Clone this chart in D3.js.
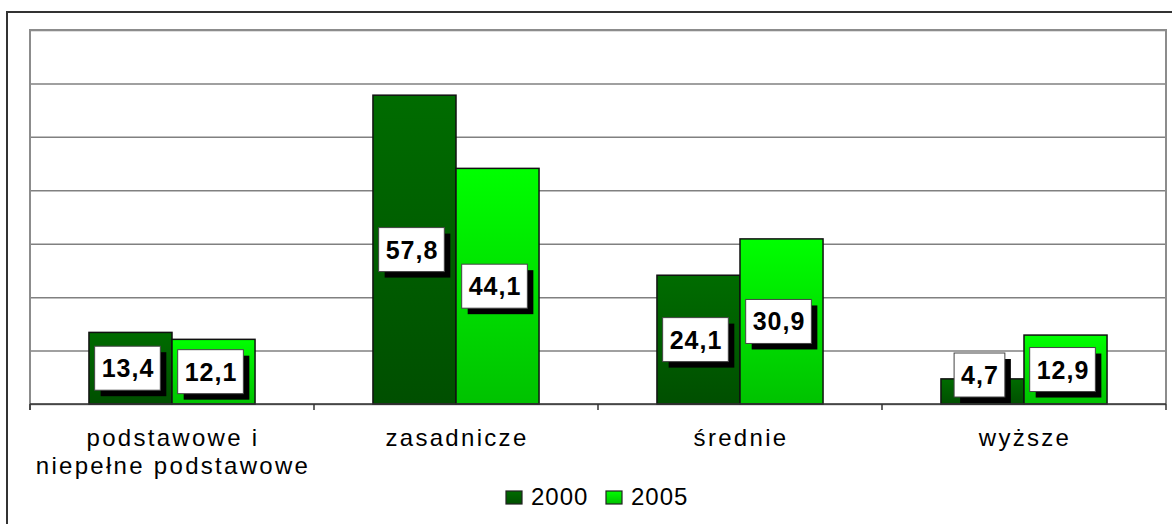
<!DOCTYPE html>
<html>
<head>
<meta charset="utf-8">
<script src="https://cdn.jsdelivr.net/npm/d3@7"></script>
<style>
body { margin:0; background:#fff; }
svg { display:block; font-family: Arial, "Liberation Sans", sans-serif; }
</style>
</head>
<body>
<div id="chart"></div>
<script>
// dane z wykresu
var categories = ["podstawowe i\nniepełne podstawowe", "zasadnicze", "średnie", "wyższe"];
var series = ["2000", "2005"];
var values2000 = [13.4, 57.8, 24.1, 4.7];
var values2005 = [12.1, 44.1, 30.9, 12.9];
var yTicks = [0, 10, 20, 30, 40, 50, 60, 70];

var w = 1172, h = 524;
var plot = {left:30, right:1166, top:30, bottom:404};

var data = categories.map(function(c, i){
  return {cat:c, vals:[{s:"2000", v:values2000[i]}, {s:"2005", v:values2005[i]}]};
});

var svg = d3.select("#chart").append("svg")
  .attr("width", w)
  .attr("height", h);

var defs = svg.append("defs");
var grads = {"2000":["#006c00", "#004f00"], "2005":["#00ff00", "#00c200"]};
series.forEach(function(s){
  var g = defs.append("linearGradient").attr("id", "g" + s)
    .attr("x1", 0).attr("y1", 0).attr("x2", 0).attr("y2", 1);
  g.append("stop").attr("offset", "0%").attr("stop-color", grads[s][0]);
  g.append("stop").attr("offset", "100%").attr("stop-color", grads[s][1]);
});

// ramka zewnetrzna
svg.append("rect")
  .attr("x", 7).attr("y", 12)
  .attr("width", w).attr("height", h)
  .attr("fill", "none")
  .attr("stroke", "#333").attr("stroke-width", 2);

var y = d3.scaleLinear().domain([0, 70]).range([plot.bottom, plot.top]);
var x0 = d3.scaleBand().domain(categories).range([plot.left, plot.right]).padding(0);
var x1 = d3.scaleBand().domain(series).range([0, x0.bandwidth()])
  .paddingInner(0).paddingOuter(0.71);

// siatka
var grid = svg.append("g")
  .attr("transform", "translate(" + plot.left + ",0)")
  .call(d3.axisLeft(y).tickValues(yTicks).tickSize(-(plot.right - plot.left)).tickFormat(""));
grid.select(".domain").remove();
grid.selectAll("line").attr("stroke", "#808080").attr("stroke-width", 1.5);

// ramka obszaru wykresu
svg.append("path")
  .attr("d", "M" + plot.left + "," + (plot.bottom + 6) + "V" + plot.top + "H" + plot.right + "V" + plot.bottom)
  .attr("fill", "none").attr("stroke", "#8c8c8c").attr("stroke-width", 2);

// slupki
var groups = svg.append("g").selectAll("g")
  .data(data)
  .enter()
  .append("g")
  .attr("transform", function(d){ return "translate(" + x0(d.cat) + ",0)"; });

groups.selectAll("rect")
  .data(function(d){ return d.vals; })
  .enter()
  .append("rect")
  .attr("x", function(d){ return x1(d.s); })
  .attr("y", function(d){ return y(d.v); })
  .attr("width", x1.bandwidth())
  .attr("height", function(d){ return y(0) - y(d.v); })
  .attr("fill", function(d){ return "url(#g" + d.s + ")"; })
  .attr("stroke", "#111")
  .attr("stroke-width", 1.5);

// os X
svg.append("line")
  .attr("x1", plot.left).attr("x2", plot.right)
  .attr("y1", plot.bottom).attr("y2", plot.bottom)
  .attr("stroke", "#333").attr("stroke-width", 1.5);
var bounds = categories.map(function(c){ return x0(c); }).concat([plot.right]);
svg.append("g").selectAll("line")
  .data(bounds)
  .enter()
  .append("line")
  .attr("x1", function(d){ return d; }).attr("x2", function(d){ return d; })
  .attr("y1", plot.bottom).attr("y2", plot.bottom + 6)
  .attr("stroke", "#333").attr("stroke-width", 1.5);

var xAxis = svg.append("g")
  .attr("transform", "translate(0," + plot.bottom + ")")
  .call(d3.axisBottom(x0).tickSize(0).tickFormat(""));
xAxis.select(".domain").remove();
xAxis.selectAll(".tick").append("text")
  .attr("text-anchor", "middle")
  .attr("fill", "#000")
  .style("font-size", "24px")
  .style("letter-spacing", "2.3px")
  .selectAll("tspan")
  .data(function(d){ return d.split("\n"); })
  .enter()
  .append("tspan")
  .attr("x", 1)
  .attr("y", function(d, i){ return 42 + i * 28; })
  .text(function(d){ return d; });

// etykiety wartosci
var labels = groups.selectAll("g.lab")
  .data(function(d){ return d.vals; })
  .enter()
  .append("g")
  .attr("class", "lab");

labels.each(function(d){
  var g = d3.select(this);
  var txt = d.v.toFixed(1).replace(".", ",");
  var t = g.append("text")
    .text(txt)
    .style("font-size", "25px")
    .style("font-weight", "bold")
    .style("letter-spacing", "1px")
    .attr("text-anchor", "middle");
  var tw = t.node().getComputedTextLength();
  var bw = tw + 13, bh = 44;
  var cx = x1(d.s) + x1.bandwidth() / 2 - 3;
  var cy = (y(d.v) + y(0)) / 2;
  cy = Math.min(cy, plot.bottom - 7 - bh / 2);
  g.insert("rect", "text")
    .attr("x", cx - bw / 2 + 6).attr("y", cy - bh / 2 + 6)
    .attr("width", bw).attr("height", bh)
    .attr("fill", "#000");
  g.insert("rect", "text")
    .attr("x", cx - bw / 2).attr("y", cy - bh / 2)
    .attr("width", bw).attr("height", bh)
    .attr("fill", "#fff")
    .attr("stroke", "#444").attr("stroke-width", 1);
  t.attr("x", cx + 0.5).attr("y", cy + 9);
});

// legenda
var legend = svg.append("g").attr("transform", "translate(506,491)");
var leg = legend.selectAll("g")
  .data(series)
  .enter()
  .append("g")
  .attr("transform", function(d, i){ return "translate(" + (i * 100) + ",0)"; });
leg.append("rect")
  .attr("width", 16).attr("height", 13)
  .attr("fill", function(d){ return "url(#g" + d + ")"; })
  .attr("stroke", "#222").attr("stroke-width", 1.2);
leg.append("text")
  .attr("x", 25).attr("y", 14)
  .style("font-size", "24px")
  .style("letter-spacing", "1px")
  .text(function(d){ return d; });
</script>
</body>
</html>
